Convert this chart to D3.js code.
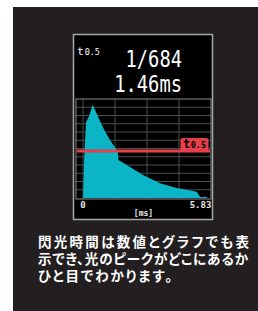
<!DOCTYPE html>
<html>
<head>
<meta charset="utf-8">
<script src="https://cdn.jsdelivr.net/npm/d3@7"></script>
<style>
	html, body { margin: 0; padding: 0; background: #ffffff; }
	svg { display: block; }
</style>
</head>
<body>
<div id="chart"></div>
<script>
// flash curve (time in ms, light level in grid units)
var timeMs = [0, 0.05, 0.14, 0.28, 0.45, 0.56, 0.8, 1.03, 1.27, 1.64, 1.66, 2.05, 2.81, 3.61, 4.39, 5.33, 5.49, 5.81];
var level  = [0.12, 4.6, 9.2, 9.9, 11.3, 10.7, 9.3, 8.1, 7.0, 5.6, 4.6, 4.0, 2.8, 1.8, 1.2, 0.76, 0.12, 0.12];

var xGrid = [0, 1.5, 3, 4.5];
var yGrid = [1, 2, 3, 4, 5, 6, 7, 8, 9, 10, 11];
var xLabels = ["0", "5.83"];
var xLabelValues = [0, 5.83];
var unitLabel = "[ms]";
var halfLevel = 5.7;
var readout = ["1/684", "1.46ms"];
var caption = [
	"閃光時間は数値とグラフでも表",
	"示でき、光のピークがどこにあるか",
	"ひと目でわかります。"
];

var W = 258, H = 311;
var svg = d3.select("#chart").append("svg")
	.attr("width", W)
	.attr("height", H);

// dark panel + lcd screen
svg.append("rect")
	.attr("x", 13).attr("y", 7)
	.attr("width", W - 13).attr("height", H - 7)
	.attr("fill", "#231f20");

svg.append("rect")
	.attr("x", 73.5).attr("y", 34.5)
	.attr("width", 139).attr("height", 185)
	.attr("fill", "#000")
	.attr("stroke", "#a6a6a6")
	.attr("stroke-width", 1.5);

var x = d3.scaleLinear().domain([-0.33, 6]).range([76, 211]);
var y = d3.scaleLinear().domain([0, 12]).range([198, 99]);

var plot = svg.append("g");

// grid
plot.selectAll(".hgrid")
	.data(yGrid)
	.enter()
	.append("line")
	.attr("class", "hgrid")
	.attr("x1", x.range()[0]).attr("x2", x.range()[1])
	.attr("y1", d => y(d)).attr("y2", d => y(d))
	.attr("stroke", "#4a4f50")
	.attr("stroke-width", 1);

plot.selectAll(".vgrid")
	.data(xGrid)
	.enter()
	.append("line")
	.attr("class", "vgrid")
	.attr("x1", d => x(d)).attr("x2", d => x(d))
	.attr("y1", 99).attr("y2", 199)
	.attr("stroke", "#4a4f50")
	.attr("stroke-width", 1);

// curve
var pts = timeMs.map((t, i) => [t, level[i]]);
var area = d3.area()
	.x(d => x(d[0]))
	.y0(y(0))
	.y1(d => y(d[1]));

plot.append("path")
	.datum(pts)
	.attr("d", area)
	.attr("fill", "#0cb5c5");

// plot frame
plot.append("rect")
	.attr("x", 76).attr("y", 99)
	.attr("width", 135).attr("height", 100)
	.attr("fill", "none")
	.attr("stroke", "#8a8a8a")
	.attr("stroke-width", 1);

// half-peak line and tag
var red = "#e8404a";
plot.append("line")
	.attr("x1", x.range()[0] + 1).attr("x2", x.range()[1] - 1)
	.attr("y1", y(halfLevel)).attr("y2", y(halfLevel))
	.attr("stroke", red)
	.attr("stroke-width", 3);

plot.append("rect")
	.attr("x", 180.5).attr("y", y(halfLevel) - 13)
	.attr("width", 28).attr("height", 13)
	.attr("rx", 2.5)
	.attr("fill", red);

var tag = plot.append("text")
	.attr("x", 183).attr("y", y(halfLevel) - 2.5)
	.attr("font-family", "DejaVu Sans Mono")
	.attr("font-weight", "bold")
	.attr("fill", "#000");
tag.append("tspan").attr("font-size", 12).text("t");
tag.append("tspan").attr("font-size", 8.5).attr("dx", 0.5).text("0.5");

// axis labels
svg.selectAll(".xlab")
	.data(xLabels)
	.enter()
	.append("text")
	.attr("class", "xlab")
	.attr("x", (d, i) => i == 0 ? x(xLabelValues[i]) : x(xLabelValues[i]) + 4)
	.attr("y", 208)
	.attr("text-anchor", (d, i) => i == 0 ? "middle" : "end")
	.attr("font-family", "DejaVu Sans Mono")
	.attr("font-weight", "bold")
	.attr("font-size", 9)
	.attr("fill", "#e8e8e8")
	.text(d => d);

svg.append("text")
	.attr("x", 143.5).attr("y", 216)
	.attr("text-anchor", "middle")
	.attr("font-family", "DejaVu Sans Mono")
	.attr("font-weight", "bold")
	.attr("font-size", 8)
	.attr("fill", "#e8e8e8")
	.text(unitLabel);

// readout
var t05 = svg.append("text")
	.attr("x", 77).attr("y", 55)
	.attr("font-family", "DejaVu Sans Mono")
	.attr("fill", "#fff");
t05.append("tspan").attr("font-size", 11).text("t");
t05.append("tspan").attr("font-size", 8.5).attr("dx", 1).text("0.5");

svg.selectAll(".readout")
	.data(readout)
	.enter()
	.append("text")
	.attr("class", "readout")
	.attr("x", 182)
	.attr("y", (d, i) => 67 + i * 24.5)
	.attr("text-anchor", "end")
	.attr("font-family", "DejaVu Sans Mono")
	.attr("font-size", 23)
	.attr("fill", "#fff")
	.attr("textLength", d => d.length * 11.3)
	.attr("lengthAdjust", "spacingAndGlyphs")
	.text(d => d);

// caption: one line per text, each stretched to the printed width
var capWidths = [211, 210, 134];
svg.selectAll(".cap")
	.data(caption)
	.enter()
	.append("text")
	.attr("class", "cap")
	.attr("x", 38)
	.attr("y", (d, i) => 247 + i * 17)
	.attr("font-family", "'Liberation Sans', 'Noto Sans CJK JP'")
	.attr("font-weight", "bold")
	.attr("font-size", 13.5)
	.style("font-feature-settings", "'palt'")
	.attr("fill", "#fff")
	.attr("textLength", (d, i) => capWidths[i])
	.attr("lengthAdjust", "spacing")
	.text(d => d);
</script>
</body>
</html>
